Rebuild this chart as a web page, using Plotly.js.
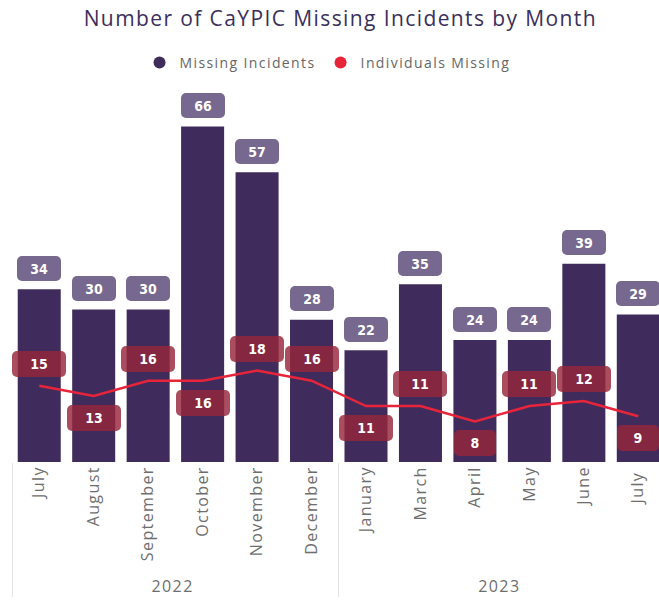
<!DOCTYPE html>
<html>
<head>
<meta charset="utf-8">
<script src="https://cdn.plot.ly/plotly-3.0.1.min.js"></script>
<style>
html,body{margin:0;padding:0;background:#fff}
#chart{width:659px;height:610px}
svg text{letter-spacing:1.4px}
#chart .annotation-text{letter-spacing:0}
</style>
</head>
<body>
<div id="chart"></div>
<script>
// ---- data ----
const years = ["2022","2022","2022","2022","2022","2022","2023","2023","2023","2023","2023","2023"];
const months = ["July","August","September","October","November","December","January","March","April","May","June","July"];
const missingIncidents = [34, 30, 30, 66, 57, 28, 22, 35, 24, 24, 39, 29];
const individualsMissing = [15, 13, 16, 16, 18, 16, 11, 11, 8, 11, 12, 9];
// label placement for the line's data labels (1 = above point, -1 = below)
const lineLabelSide = [1, -1, 1, -1, 1, 1, -1, 1, -1, 1, 1, -1];

// Plotly orders multicategory children by first appearance across groups,
// so a repeated month name gets an invisible trailing space to keep data order.
const seenMonths = {};
const monthCats = months.map(m => {
  const n = seenMonths[m] || 0;
  seenMonths[m] = n + 1;
  return m + " ".repeat(n);
});

const barColor = "#402C5C";
const lineColor = "#E8243A";
const barLabelBg = "#76688E";
const lineLabelBg = "rgba(150,38,60,0.82)";
const labelFont = {family: "DejaVu Sans Condensed, DejaVu Sans", size: 14, color: "#ffffff"};

const traces = [
  {
    type: "bar",
    x: [years, monthCats],
    y: missingIncidents,
    marker: {color: barColor},
    name: "Missing Incidents",
    showlegend: false,
    hoverinfo: "skip"
  },
  {
    type: "scatter",
    mode: "lines",
    x: [years, monthCats],
    y: individualsMissing,
    line: {color: lineColor, width: 2.5},
    name: "Individuals Missing",
    showlegend: false,
    hoverinfo: "skip"
  },
  // legend entries (circle markers, as in the reference)
  {type: "scatter", mode: "markers", x: [null], y: [null], name: "Missing Incidents",
   marker: {color: barColor, size: 13, symbol: "circle"}, showlegend: true},
  {type: "scatter", mode: "markers", x: [null], y: [null], name: "Individuals Missing",
   marker: {color: lineColor, size: 13, symbol: "circle"}, showlegend: true}
];

const annotations = [];
missingIncidents.forEach((v, i) => {
  annotations.push({
    x: i, y: v, xref: "x", yref: "y",
    text: "<b>" + v + "</b>", showarrow: false,
    yshift: 21, yanchor: "middle", xanchor: "center",
    bgcolor: barLabelBg, borderpad: 0, borderwidth: 0,
    width: 44, height: 25, font: labelFont
  });
});
individualsMissing.forEach((v, i) => {
  const digits = String(v).length;
  annotations.push({
    x: i, y: v, xref: "x", yref: "y",
    text: "<b>" + v + "</b>", showarrow: false,
    yshift: 22 * lineLabelSide[i], yanchor: "middle", xanchor: "center",
    bgcolor: lineLabelBg, borderpad: 0, borderwidth: 0,
    width: digits > 1 ? 54 : 42, height: 26, font: labelFont
  });
});

const layout = {
  width: 659, height: 610,
  margin: {l: 12, r: 0, t: 90, b: 148},
  paper_bgcolor: "#ffffff", plot_bgcolor: "#ffffff",
  font: {family: "Open Sans, Noto Sans, sans-serif", color: "#666666"},
  title: {
    text: "Number of CaYPIC Missing Incidents by Month",
    x: 0.5075, xanchor: "center", xref: "paper",
    y: 0.970, yanchor: "middle", yref: "container",
    font: {family: "Open Sans, Noto Sans, sans-serif", size: 21, color: "#3B2F5B"}
  },
  legend: {
    orientation: "h", x: 0.497, xanchor: "center", xref: "container",
    y: 0.897, yanchor: "middle", yref: "container",
    font: {size: 14, color: "#666666"}, itemwidth: 30, itemsizing: "constant"
  },
  bargap: 0.21,
  xaxis: {
    type: "multicategory",
    range: [-0.5, 11.38],
    tickangle: -90,
    tickfont: {size: 16, color: "#6e6e6e"},
    showgrid: false, zeroline: false, showline: false, ticks: "",
    showdividers: true, dividercolor: "#e3e3e3", dividerwidth: 1
  },
  yaxis: {
    range: [0, 73.2], visible: false, showgrid: false, zeroline: false
  },
  annotations: annotations
};

Plotly.newPlot("chart", traces, layout, {staticPlot: true, displayModeBar: false}).then(() => {
  document.querySelectorAll("#chart .annotation rect.bg").forEach(r => {
    r.setAttribute("rx", 5); r.setAttribute("ry", 5);
  });
});
</script>
</body>
</html>
